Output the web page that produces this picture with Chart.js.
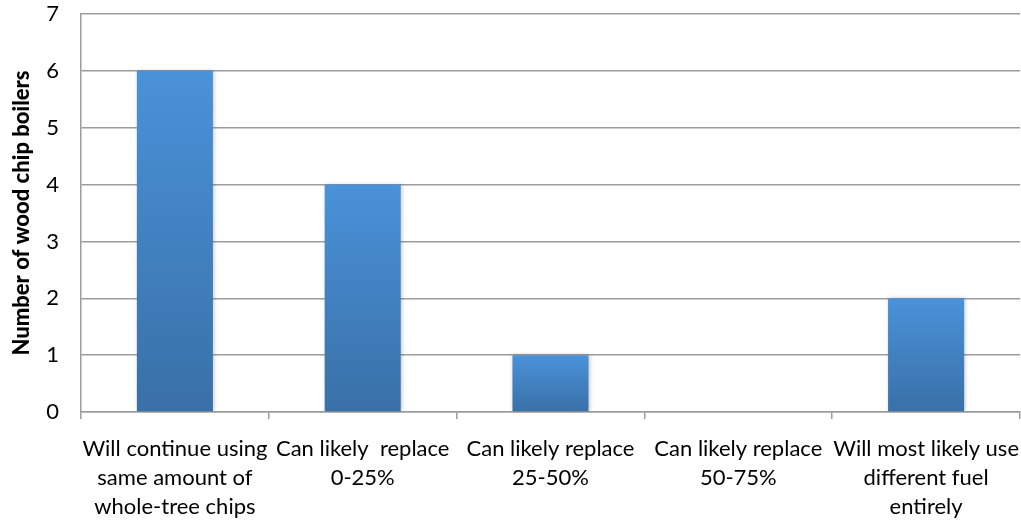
<!DOCTYPE html>
<html>
<head>
<meta charset="utf-8">
<script src="https://cdn.jsdelivr.net/npm/chart.js@4/dist/chart.umd.min.js"></script>
<style>
  html, body { margin: 0; padding: 0; background: #fff; }
  #wrap { width: 1021px; height: 521px; }
</style>
</head>
<body>
<div id="wrap"><canvas id="c" width="1021" height="521"></canvas></div>
<script>
// Categories (multi-line labels) and counts of boilers
const categories = [
  ["Will continue using", "same amount of", "whole-tree chips"],
  ["Can likely  replace", "0-25%"],
  ["Can likely replace", "25-50%"],
  ["Can likely replace", "50-75%"],
  ["Will most likely use", "different fuel", "entirely"]
];
const boilerCounts = [6, 4, 1, 0, 2];
const yTicks = [0, 1, 2, 3, 4, 5, 6, 7];

const FONT = "Lato, 'Open Sans', sans-serif";
const GRID = "#9c9c9c";

// Vertical gradient per bar: lighter at top, darker at base
function barFill(ctx) {
  const chart = ctx.chart;
  const area = chart.chartArea;
  if (!area || ctx.dataIndex === undefined) return "#4389cf";
  const y = chart.scales.y;
  const top = y.getPixelForValue(boilerCounts[ctx.dataIndex]);
  const bottom = y.getPixelForValue(0);
  if (!(bottom > top)) return "#4389cf";
  const g = chart.ctx.createLinearGradient(0, top, 0, bottom);
  g.addColorStop(0, "#4a92d9");
  g.addColorStop(1, "#3970a7");
  return g;
}

// Soft shadow around the bars
const barShadow = {
  id: "barShadow",
  beforeDatasetsDraw(chart) {
    const c = chart.ctx;
    c.save();
    c.shadowColor = "rgba(0,0,0,0.22)";
    c.shadowBlur = 4;
    c.shadowOffsetX = 1;
    c.shadowOffsetY = 0;
  },
  afterDatasetsDraw(chart) {
    chart.ctx.restore();
  }
};

new Chart(document.getElementById("c"), {
  type: "bar",
  data: {
    labels: categories,
    datasets: [{
      data: boilerCounts,
      backgroundColor: barFill,
      borderWidth: 0,
      barPercentage: 0.405,
      categoryPercentage: 1.0
    }]
  },
  options: {
    responsive: false,
    animation: false,
    layout: { padding: { top: 14, right: 1, bottom: 0, left: 0 } },
    plugins: {
      legend: { display: false },
      tooltip: { enabled: false }
    },
    scales: {
      x: {
        offset: true,
        grid: {
          display: true,
          offset: true,
          drawOnChartArea: false,
          drawTicks: true,
          tickLength: 7,
          color: GRID,
          lineWidth: 1.5
        },
        border: { display: true, color: GRID, width: 1.5 },
        ticks: {
          color: "#000",
          padding: 16,
          maxRotation: 0,
          autoSkip: false,
          font: { family: FONT, size: 22, lineHeight: 1.3 }
        },
        afterFit(s) {
          s.height = 109;
          s.paddingLeft = 0;
          s.paddingRight = 0;
        }
      },
      y: {
        min: 0,
        max: 7,
        afterBuildTicks(s) { s.ticks = yTicks.map(v => ({ value: v })); },
        grid: {
          color: GRID,
          lineWidth: 1.5,
          drawTicks: false
        },
        border: { display: true, color: GRID, width: 1.5 },
        ticks: {
          color: "#000",
          padding: 22,
          font: { family: FONT, size: 22 }
        },
        title: {
          display: true,
          text: "Number of wood chip boilers",
          color: "#000",
          font: { family: FONT, size: 22, weight: "900" },
          padding: { top: 9, bottom: 0 }
        },
        afterFit(s) {
          s.width = 81;
          s.paddingTop = 0;
          s.paddingBottom = 0;
        }
      }
    }
  },
  plugins: [barShadow]
});
</script>
</body>
</html>
